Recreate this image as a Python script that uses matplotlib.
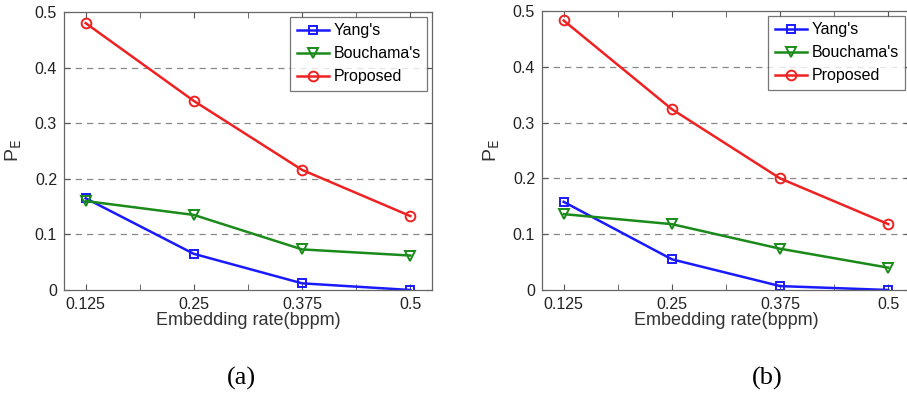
import matplotlib
matplotlib.use("Agg")
import matplotlib.pyplot as plt

plt.rcParams['font.family'] = ['Liberation Sans', 'DejaVu Sans']

x_rates = [0.125, 0.25, 0.375, 0.5]
x_tick_labels = ['0.125', '0.25', '0.375', '0.5']
y_ticks = [0, 0.1, 0.2, 0.3, 0.4, 0.5]
series_names = ["Yang's", "Bouchama's", "Proposed"]

yang_a = [0.165, 0.065, 0.012, 0.0]
bouchama_a = [0.160, 0.135, 0.073, 0.062]
proposed_a = [0.480, 0.340, 0.216, 0.133]

yang_b = [0.158, 0.055, 0.007, 0.0]
bouchama_b = [0.136, 0.118, 0.074, 0.040]
proposed_b = [0.483, 0.324, 0.200, 0.118]

panel_labels = ['(a)', '(b)']

colors = ['#1a1aff', '#1a8a1a', '#ee2222']
markers = ['s', 'v', 'o']
msizes = [5.5, 7, 7]

fig = plt.figure(figsize=(9.07, 3.93), dpi=100)
W, H = 907, 393

def make_ax(left_px, right_px, top_px, bottom_px):
    return fig.add_axes([left_px / W, 1 - bottom_px / H,
                         (right_px - left_px) / W, (bottom_px - top_px) / H])

axes = [make_ax(64, 432, 12, 290), make_ax(542, 910, 11, 290)]
data = [(yang_a, bouchama_a, proposed_a), (yang_b, bouchama_b, proposed_b)]

minor = [0.1875, 0.3125, 0.4375]
for ax, ds, lab, cx in zip(axes, data, panel_labels, [241, 767]):
    for vals, name, c, m, ms in zip(ds, series_names, colors, markers, msizes):
        ax.plot(x_rates, vals, color=c, marker=m, markersize=ms, lw=1.8,
                markerfacecolor='none', markeredgewidth=1.4, label=name)
    ax.set_xlim(0.1, 0.525)
    ax.set_ylim(0, 0.5)
    ax.set_xticks(x_rates)
    ax.set_xticklabels(x_tick_labels)
    ax.set_xticks(minor, minor=True)
    ax.set_yticks(y_ticks)
    ax.set_yticklabels(['0', '0.1', '0.2', '0.3', '0.4', '0.5'])
    for yv in y_ticks[1:-1]:
        ax.axhline(yv, color='#888888', lw=0.9, ls=(0, (5, 4)), zorder=0)
    ax.tick_params(direction='in', top=True, right=True, which='both',
                   labelsize=11.5, color='#555555', length=4, pad=5,
                   labelcolor='#222222')
    ax.tick_params(which='minor', length=4)
    for s in ax.spines.values():
        s.set_color('#666666')
        s.set_linewidth(0.9)
    ax.set_xlabel('Embedding rate(bppm)', fontsize=13, labelpad=0, color='#333333')
    ax.set_ylabel(r'P$_{\mathsf{E}}$', fontsize=14, labelpad=8, color='#333333')
    leg = ax.legend(loc='upper right', fontsize=11.5, frameon=True, fancybox=False,
                    handlelength=2.0, handletextpad=0.3, borderpad=0.4,
                    labelspacing=0.5, borderaxespad=0.3)
    leg.get_frame().set_edgecolor('#555555')
    leg.get_frame().set_linewidth(0.9)
    fig.text(cx / W, 1 - 378 / H, lab, ha='center', va='center',
             fontsize=19, family='Liberation Serif')

fig.savefig('out.png', dpi=100)
